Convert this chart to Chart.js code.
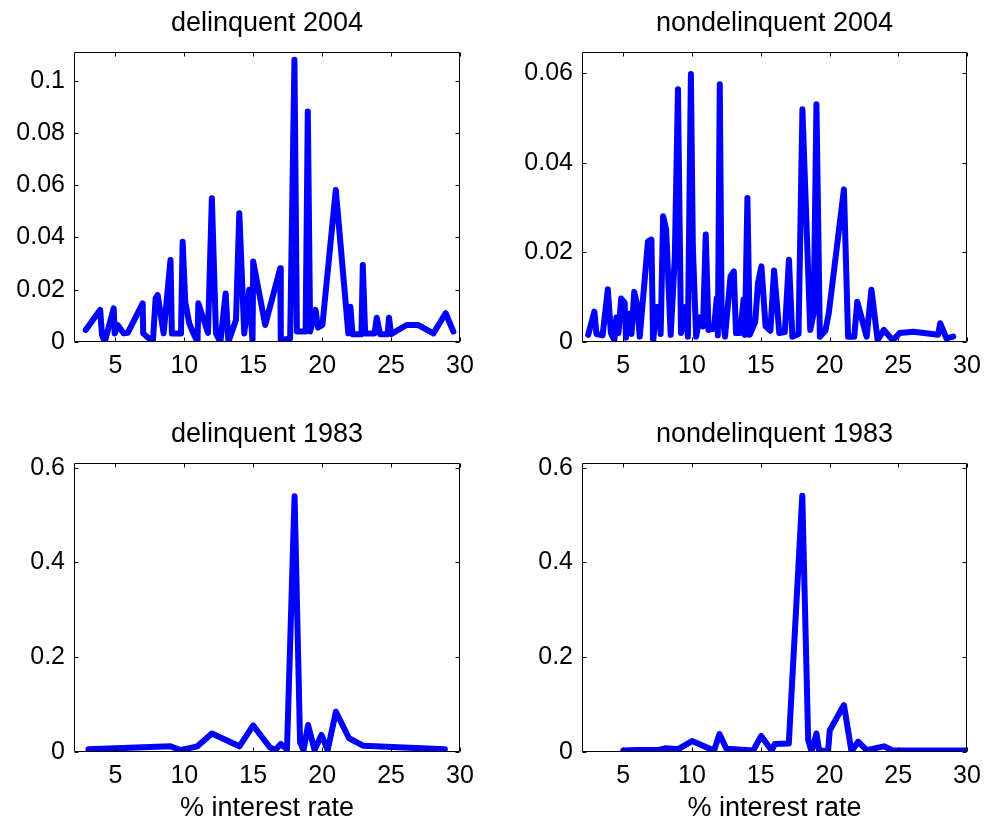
<!DOCTYPE html>
<html>
<head>
<meta charset="utf-8">
<title>Interest rate distributions</title>
<script src="https://cdn.jsdelivr.net/npm/chart.js@4.4.1/dist/chart.umd.min.js"></script>
<style>
  html, body { margin: 0; padding: 0; background: #fff; overflow: hidden; }
  #fig { position: relative; width: 990px; height: 827px; }
  #fig canvas { position: absolute; }
</style>
</head>
<body>
<div id="fig">
  <canvas id="del04" width="495" height="412" style="left:0;top:0"></canvas>
  <canvas id="non04" width="495" height="412" style="left:495px;top:0"></canvas>
  <canvas id="del83" width="495" height="415" style="left:0;top:412px"></canvas>
  <canvas id="non83" width="495" height="415" style="left:495px;top:412px"></canvas>
</div>
<script>
// tick labels
const xTicks = [5, 10, 15, 20, 25, 30];
const yTicks04del = [0, 0.02, 0.04, 0.06, 0.08, 0.1];
const yTicks04non = [0, 0.02, 0.04, 0.06];
const yTicks83 = [0, 0.2, 0.4, 0.6];

// delinquent 2004
const del04Rate = [2.85, 3.9, 4.03, 4.23, 4.88, 4.95, 5.17, 5.6, 5.9, 6.98, 7.02, 7.72, 7.92, 8.07, 8.5,
  9.0, 9.1, 9.76, 9.88, 10.07, 10.36, 10.6, 10.96, 11.02, 11.72, 12.0, 12.3, 12.62, 13.0, 13.2, 13.75,
  13.99, 14.35, 14.71, 14.95, 15.0, 15.87, 16.96, 17.0, 17.68, 17.99, 18.17, 18.8, 18.96, 19.13, 19.52,
  19.7, 20.02, 20.99, 21.9, 22.05, 22.2, 22.85, 22.95, 23.12, 23.8, 23.96, 24.2, 24.75, 24.85, 25.0,
  26.13, 26.98, 28.07, 28.96, 29.52];
const del04Prob = [0.0046, 0.0123, 0.0027, 0.0, 0.0129, 0.0033, 0.0065, 0.0033, 0.0035, 0.0148, 0.0033, 0.0, 0.0167, 0.018, 0.0033,
  0.0314, 0.0033, 0.0033, 0.0384, 0.0154, 0.0072, 0.004, 0.0, 0.0148, 0.0035, 0.055, 0.0033, 0.0, 0.0186, 0.0, 0.0084,
  0.0493, 0.0033, 0.02, 0.0, 0.0308, 0.0065, 0.0282, 0.0007, 0.0014, 0.108, 0.004, 0.004, 0.0882, 0.004, 0.0123,
  0.0055, 0.0065, 0.0582, 0.0033, 0.0135, 0.003, 0.003, 0.0295, 0.0033, 0.0033, 0.0093, 0.003, 0.003, 0.0093, 0.003,
  0.0065, 0.0065, 0.0033, 0.011, 0.004];

// nondelinquent 2004
const non04Rate = [2.45, 2.9, 3.05, 3.5, 3.88, 4.1, 4.35, 4.5, 4.65, 4.85, 5.1, 5.2, 5.42, 5.6, 5.8, 6.0, 6.2,
  6.8, 7.05, 7.17, 7.4, 7.6, 7.72, 7.9, 8.12, 8.45, 8.75, 8.98, 9.2, 9.5, 9.7, 9.92, 10.06, 10.3, 10.55,
  10.8, 11.0, 11.2, 11.6, 11.8, 11.88, 12.02, 12.15, 12.4, 12.6, 12.8, 13.04, 13.2, 13.5, 13.75, 13.85,
  14.03, 14.2, 14.6, 14.8, 15.05, 15.35, 15.7, 15.97, 16.35, 16.75, 17.05, 17.3, 17.75, 18.03, 18.6,
  18.85, 19.05, 19.3, 19.7, 19.95, 21.05, 21.35, 21.8, 22.02, 22.7, 23.05, 23.5, 23.95, 24.6, 25.1,
  26.1, 27.9, 28.05, 28.5, 29.0];
const non04Prob = [0.0016, 0.0068, 0.0018, 0.0015, 0.0118, 0.002, 0.0004, 0.0055, 0.002, 0.0097, 0.0088, 0.001, 0.0063, 0.0018, 0.0112, 0.0085, 0.0012,
  0.0225, 0.0229, 0.0, 0.0078, 0.0078, 0.0018, 0.0281, 0.0251, 0.0016, 0.019, 0.0565, 0.002, 0.0078, 0.0012, 0.0599, 0.0214, 0.0012, 0.0055,
  0.0035, 0.024, 0.0027, 0.003, 0.0098, 0.0015, 0.0576, 0.0078, 0.0012, 0.0078, 0.0146, 0.0158, 0.002, 0.002, 0.0095, 0.0016,
  0.0322, 0.0016, 0.0045, 0.0132, 0.0169, 0.0035, 0.0025, 0.016, 0.002, 0.0022, 0.0184, 0.0012, 0.0018, 0.052, 0.0027,
  0.0065, 0.0531, 0.0012, 0.0025, 0.0065, 0.0341, 0.0012, 0.0012, 0.009, 0.0012, 0.0117, 0.0004, 0.0027, 0.0004, 0.002,
  0.0023, 0.0016, 0.0042, 0.0008, 0.0012];

// delinquent 1983
const del83Rate = [3.05, 9.0, 9.7, 10.95, 12.0, 14.0, 15.0, 16.2, 16.6, 17.0, 17.45, 18.0, 18.4, 18.65,
  18.98, 19.45, 19.95, 20.4, 21.0, 21.95, 23.0, 28.9];
const del83Prob = [0.0057, 0.012, 0.004, 0.012, 0.039, 0.012, 0.056, 0.010, 0.004, 0.017, 0.005, 0.54, 0.02, 0.004,
  0.057, 0.004, 0.036, 0.004, 0.085, 0.029, 0.013, 0.0057];

// nondelinquent 1983
const non83Rate = [5.0, 6.0, 7.0, 7.5, 8.1, 9.0, 10.0, 11.6, 12.0, 12.5, 14.45, 15.03, 15.8, 16.02, 17.04,
  18.02, 18.45, 18.7, 19.05, 19.25, 19.9, 20.02, 21.05, 21.6, 22.08, 22.7, 23.95, 24.6, 30.0];
const non83Prob = [0.003, 0.004, 0.004, 0.004, 0.008, 0.006, 0.023, 0.003, 0.038, 0.007, 0.003, 0.034, 0.003, 0.017, 0.018,
  0.541, 0.025, 0.001, 0.039, 0.002, 0.003, 0.046, 0.099, 0.001, 0.022, 0.004, 0.012, 0.003, 0.003];

const FONT = "'Liberation Sans', Arial, Helvetica, sans-serif";

// matlab style box with inward ticks on all four sides
const boxTicks = {
  id: 'boxTicks',
  afterDatasetsDraw(chart) {
    const { ctx, chartArea: a, scales: { x, y } } = chart;
    const L = Math.round(a.left) + 0.5, R = Math.round(a.right) - 0.5;
    const T = Math.round(a.top) + 0.5, B = Math.round(a.bottom) - 0.5;
    const len = 4;
    ctx.save();
    ctx.strokeStyle = '#000';
    ctx.lineWidth = 1;
    ctx.beginPath();
    ctx.rect(L, T, R - L, B - T);
    x.ticks.forEach(t => {
      const px = Math.round(x.getPixelForValue(t.value)) + 0.5;
      ctx.moveTo(px, B); ctx.lineTo(px, B - len);
      ctx.moveTo(px, T); ctx.lineTo(px, T + len);
    });
    y.ticks.forEach(t => {
      const py = Math.round(y.getPixelForValue(t.value)) + 0.5;
      ctx.moveTo(L, py); ctx.lineTo(L + len, py);
      ctx.moveTo(R, py); ctx.lineTo(R - len, py);
    });
    ctx.stroke();
    ctx.restore();
  }
};

function panel(id, title, rates, probs, yMax, yTicks, lay) {
  new Chart(document.getElementById(id), {
    type: 'line',
    data: {
      datasets: [{
        data: rates.map((r, i) => ({ x: r, y: probs[i] })),
        borderColor: '#0000ff',
        borderWidth: 6,
        pointRadius: 0,
        tension: 0,
        borderJoinStyle: 'round',
        borderCapStyle: 'round',
        clip: 0
      }]
    },
    options: {
      responsive: false,
      animation: false,
      events: [],
      layout: { padding: { left: 0, right: lay.right, top: 0, bottom: 0 } },
      plugins: {
        legend: { display: false },
        tooltip: { enabled: false },
        title: {
          display: true, text: title, fullSize: false, color: '#000',
          font: { family: FONT, size: 27, weight: 'normal' },
          padding: { top: lay.tTop, bottom: lay.tBottom }
        }
      },
      scales: {
        x: {
          type: 'linear', min: 2, max: 30,
          grid: { display: false, drawTicks: false },
          border: { display: false },
          ticks: { color: '#000', font: { family: FONT, size: 25 }, padding: 9, maxRotation: 0, autoSkip: false },
          afterBuildTicks: s => { s.ticks = xTicks.map(v => ({ value: v })); },
          afterFit: s => { s.height = lay.xh; },
          title: {
            display: !!lay.xlabel, text: lay.xlabel || '', color: '#000',
            font: { family: FONT, size: 27 }, padding: { top: 0, bottom: 2 }
          }
        },
        y: {
          type: 'linear', min: 0, max: yMax,
          grid: { display: false, drawTicks: false },
          border: { display: false },
          ticks: { color: '#000', font: { family: FONT, size: 25 }, padding: 9, callback: v => String(+v.toFixed(4)) },
          afterBuildTicks: s => { s.ticks = yTicks.map(v => ({ value: v })); },
          afterFit: s => { s.width = lay.yw; }
        }
      }
    },
    plugins: [boxTicks]
  });
}

panel('del04', 'delinquent 2004', del04Rate, del04Prob, 0.111, yTicks04del,
  { yw: 74, right: 35, xh: 70, tTop: 7, tBottom: 12.6 });
panel('non04', 'nondelinquent 2004', non04Rate, non04Prob, 0.0648, yTicks04non,
  { yw: 87, right: 23, xh: 70, tTop: 7, tBottom: 12.6 });
panel('del83', 'delinquent 1983', del83Rate, del83Prob, 0.61, yTicks83,
  { yw: 74, right: 35, xh: 75, tTop: 6, tBottom: 12.6, xlabel: '% interest rate' });
panel('non83', 'nondelinquent 1983', non83Rate, non83Prob, 0.61, yTicks83,
  { yw: 87, right: 23, xh: 75, tTop: 6, tBottom: 12.6, xlabel: '% interest rate' });
</script>
</body>
</html>
